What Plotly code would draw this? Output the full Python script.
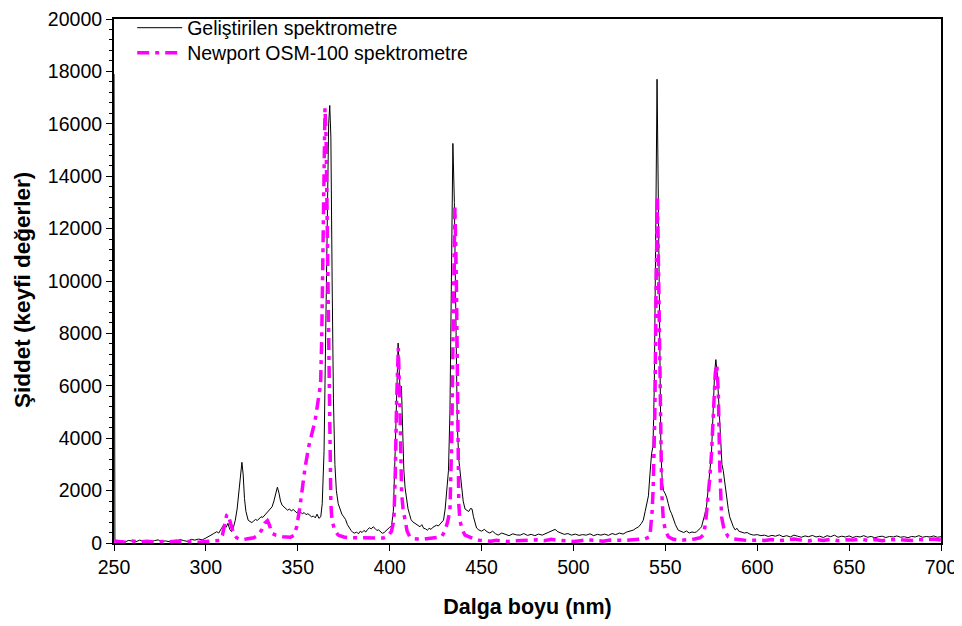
import plotly.graph_objects as go

# Developed spectrometer (black, thin line)
dev_wl = [250, 250.5, 252, 254, 256, 258, 260, 262, 264, 266, 268, 270, 272, 274, 276, 278, 280, 282, 284, 286, 288, 290,
          292, 294, 296, 298, 300, 302, 304, 305.9, 307, 308.5, 310, 311, 312, 313, 314, 315, 316, 317, 318, 319, 319.6,
          320.3, 321, 321.8, 323, 324, 325, 326, 327, 328, 329, 330, 331, 332, 333, 334, 335, 336, 337, 338, 338.9, 339.8,
          340.6, 341.5, 342.5, 343.5, 344.5, 345.5, 346.5, 347.5, 348.5, 349.5, 350.5, 351.5, 352.5, 353.5, 354.5, 355.5,
          356.5, 357.5, 358.5, 359.5, 360.5, 361.5, 362.5, 363.3, 364.3, 365.2, 366, 366.8, 367.4, 368, 368.7, 369.4, 370.2,
          371, 372, 373, 374, 375, 376, 377, 378, 379, 380, 381, 382, 383, 384, 385, 386, 387, 388, 389, 390, 391, 392,
          393, 394, 395, 396, 397, 398, 399, 400, 401, 402, 403, 403.8, 404.6, 405.2, 405.7, 406.4, 407, 407.7, 408.4,
          409.2, 410, 410.8, 411.6, 412.5, 413.5, 414.5, 415.5, 416.5, 417.5, 418.5, 419.5, 420.5, 421.5, 422.5, 423.5,
          424.5, 425.5, 426.5, 427.5, 428.5, 429.3, 430.2, 431, 432, 432.8, 433.6, 434.4, 435.2, 436, 436.8, 437.6, 438.3,
          439, 440, 441, 442, 443, 444, 444.8, 445.6, 446.5, 447.3, 448.5, 450, 451.5, 453, 454.5, 456, 457.5, 459, 461,
          463, 465, 467, 469, 471, 473, 475, 477, 479, 481, 483, 485, 487, 488.5, 490, 491.5, 493, 495, 497, 499, 501,
          503, 505, 507, 509, 511, 513, 515, 517, 519, 521, 523, 525, 527, 529, 531, 532.5, 534, 535.5, 537, 538, 539,
          540, 540.8, 541.6, 542.5, 543.3, 544, 544.8, 545.5, 546.2, 546.9, 547.6, 548.3, 549, 549.8, 550.7, 551.6,
          552.5, 553.4, 554.5, 555.5, 557, 558.5, 560, 561.5, 563, 564.5, 566, 567, 568, 569, 569.7, 570.5, 571.5,
          572.4, 573.3, 574.2, 575.1, 576, 576.8, 577.5, 578.3, 579.2, 580, 580.8, 581.5, 582.3, 583.2, 584.2, 585, 586,
          587, 588, 589, 590, 591.5, 593, 594.5, 596, 598,
          600, 602, 604, 606, 608, 610, 612, 614, 616, 618, 620, 622, 624, 626, 628, 630, 632, 634, 636, 638, 640, 642,
          644, 646, 648, 650, 652, 654, 656, 658, 660, 662, 664, 666, 668, 670, 672, 674, 676, 678, 680, 682, 684, 686,
          688, 690, 692, 694, 696, 698, 700]
dev_int = [17900, 120, 60, 90, 40, 100, 70, 50, 110, 60, 80, 40, 90, 120, 60, 80, 50, 100, 70, 130, 90, 60,
           140, 110, 150, 120, 190, 260, 350, 430, 380, 560, 720, 600, 750, 520, 430, 600, 870, 1300, 2100, 2800, 3080,
           2600, 1700, 1200, 870, 820, 780, 840, 900, 860, 950, 1000, 980, 1060, 1120, 1200, 1300, 1380, 1600, 1950, 2130, 1900,
           1600, 1440, 1380, 1330, 1250, 1300, 1220, 1280, 1200, 1150, 1230, 1190, 1120, 1160, 1080, 1120,
           1050, 1000, 1030, 960, 1100, 940, 1000, 1500, 3500, 8000, 13000, 16000, 16700, 15500, 10000, 5500, 3000,
           2000, 1500, 1250, 1100, 1000, 900, 700, 560, 480, 400, 380, 420, 350, 450, 400, 480, 420, 520, 580, 540, 620, 560,
           480, 500, 420, 370, 400, 480, 540, 600, 650, 1200, 3500, 6200, 7630, 6600, 5730, 5980, 4500, 2800, 2100,
           1600, 1300, 1100, 900, 810, 760, 700, 680, 620, 700, 560, 540, 490, 560, 520, 600,
           640, 680, 650, 720, 800, 870, 1300, 2000, 2770, 5000, 11000, 15250, 13000, 8000, 4500, 3200, 2770,
           2200, 1600, 1300, 1250, 1200, 1320, 1300, 1000, 750, 570, 500, 450, 520, 430, 380, 450, 360, 300, 380,
           330, 280, 350, 310, 300, 360, 290, 330, 280, 340, 300, 360, 410, 470, 520, 430, 380, 330, 360, 300, 340,
           290, 320, 300, 350, 280, 330, 300, 340, 290, 360, 320, 380, 340, 420, 450, 490, 560, 620, 750, 870, 1200,
           1600, 1800, 2600, 3400, 3700, 6000, 12000, 17700, 13000, 7000, 3500, 2400, 2000, 1900, 1750, 1500,
           1250, 1120, 900, 700, 490, 450, 400, 460, 380, 420, 400, 430, 480, 560, 620, 800, 1100,
           1380, 2000, 2800, 3400, 5000, 6500, 7000, 6400, 5200, 3800, 3000, 2770, 2300, 1800, 1320, 1000, 800,
           620, 500, 560, 450, 420, 380, 400, 340, 300,
           320, 280, 300, 250, 290, 260, 310, 240, 280, 230, 300, 260, 220, 270, 240, 290, 230, 260, 210, 280, 240, 300,
           220, 260, 230, 270, 210, 250, 230, 280, 220, 250, 200, 240, 260, 210, 250, 230, 270, 220, 240, 200, 250, 230,
           280, 220, 250, 230, 270, 220, 240]

# Newport OSM-100 spectrometer (magenta, dash-dot)
osm_wl = [250, 252, 256, 260, 264, 268, 272, 276, 280, 284, 288, 292, 296, 300, 304, 307.7, 309, 310.3, 311.3, 312, 313,
          314, 315, 316.7, 318, 320, 322, 324, 326, 328, 330.3, 332, 333.5, 334.5, 336, 338, 340, 342, 344, 346, 348,
          349.4, 351, 352.5, 354, 356, 358, 359.4, 361, 362.4, 363, 363.8, 364.4, 364.8, 365.4, 366, 366.6, 367.2, 368,
          368.6, 370, 372, 375, 378, 382, 386, 390, 394, 396.5, 399, 401, 402.3, 403, 403.8, 404.7, 405.5, 406.5, 407.3,
          408.3, 409.5, 411, 413, 415, 417, 419, 421, 423, 425, 427, 428.3, 430, 431.5, 432.8, 433.8, 434.7, 435.5,
          436.3, 437, 437.6, 438.2, 439.5, 441, 442.8, 446, 449, 452, 455, 458, 461, 464, 468, 472, 476, 480, 484, 488,
          492, 496, 500, 504, 508, 512, 516, 520, 524, 528, 532, 536, 539, 541.6, 542.8, 543.4, 544.3, 545, 545.7,
          546.4, 547.2, 548, 548.9, 550, 551.6, 554, 558, 562, 566, 569, 570.6, 571.8, 573, 574.2, 575.1, 576.2, 577.2,
          578, 578.8, 579.6, 580.6, 582, 584.2, 587, 590, 594,
          600, 604, 608, 612, 616, 620, 624, 628, 632, 636, 640, 644, 648, 652, 656, 660, 664, 668, 672, 676, 680, 684,
          688, 692, 696, 700]
osm_int = [80, 60, 30, 80, 40, 70, 30, 60, 40, 80, 50, 60, 30, 60, 80, 100, 300, 700, 1060, 1100, 800,
           620, 380, 200, 150, 130, 150, 160, 200, 280, 490, 750, 850, 700, 370, 300, 260, 240, 230, 220, 300,
           620, 1300, 2200, 2890, 3700, 4300, 4660, 5400, 6060, 7700, 11000, 15000, 16600, 15500, 12000, 7000, 3500, 1500,
           870, 500, 300, 230, 200, 200, 180, 200, 190, 190, 260, 450, 870, 2500, 5500, 7440, 5500, 1890, 1300,
           870, 450, 230, 170, 150, 140, 150, 170, 180, 200, 220, 240, 450, 800, 1250, 4000, 9000, 12800,
           10000, 4000, 1500, 870, 500, 300, 240, 150, 100, 80, 70, 100, 90, 60, 80, 100, 130, 120, 90, 140,
           100, 80, 60, 90, 120, 100, 70, 110, 90, 100, 120, 130, 160, 240, 1200, 2130, 5000, 10000, 13200,
           10000, 5000, 2000, 870, 500, 240, 150, 100, 120, 150, 200, 300, 700, 1500, 2500, 3400, 5200, 6500,
           6820, 5800, 3000, 1000, 500, 240, 160, 120, 100,
           110, 100, 130, 90, 120, 150, 110, 80, 130, 100, 140, 90, 120, 110, 150, 100, 130, 90, 120, 140, 110, 100,
           130, 120, 150, 110]

x_ticks = [250, 300, 350, 400, 450, 500, 550, 600, 650, 700]
y_ticks = [0, 2000, 4000, 6000, 8000, 10000, 12000, 14000, 16000, 18000, 20000]

x_title = "Dalga boyu (nm)"
y_title = "Şiddet (keyfi değerler)"

FONT = "Liberation Sans, Arial, sans-serif"

fig = go.Figure()
fig.add_trace(go.Scatter(x=dev_wl, y=dev_int, mode="lines", name="Geliştirilen spektrometre",
                         line=dict(color="black", width=1), legend="legend"))
fig.add_trace(go.Scatter(x=osm_wl, y=osm_int, mode="lines", name="Newport OSM-100 spektrometre",
                         line=dict(color="#FF00FF", width=3.5, dash="12px,6px,4px,6px"), legend="legend2"))

leg_common = dict(xanchor="left", yanchor="top", bgcolor="rgba(0,0,0,0)",
                  font=dict(family=FONT, size=19.5, color="black"), itemwidth=45)

# The page body adds an 8px offset, so the figure is 8px smaller on each axis
fig.update_layout(
    width=954, height=618,
    margin=dict(l=106, r=21, t=11, b=83, autoexpand=False),
    paper_bgcolor="white", plot_bgcolor="white",
    font=dict(family=FONT, size=20, color="black"),
    showlegend=True,
    legend=dict(x=0.022, y=1.020, **leg_common),
    legend2=dict(x=0.022, y=0.9723, **leg_common),
    xaxis=dict(range=[250, 700], tickvals=x_ticks, ticktext=[str(v) for v in x_ticks],
               ticks="outside", ticklen=6, tickwidth=1, tickcolor="black", automargin=False,
               ticklabeloverflow="allow",
               showline=True, linewidth=2, linecolor="black", mirror=True,
               showgrid=False, zeroline=False,
               tickfont=dict(family=FONT, size=19.5),
               title=dict(text="<b>" + x_title + "</b>", font=dict(family=FONT, size=21.5), standoff=22)),
    yaxis=dict(range=[0, 20000], tickvals=y_ticks, ticktext=[str(v) for v in y_ticks],
               ticks="outside", ticklen=6, tickwidth=1, tickcolor="black", automargin=False,
               ticklabeloverflow="allow",
               minor=dict(dtick=400, ticks="outside", ticklen=3, tickcolor="black", tickwidth=1, showgrid=False),
               showline=True, linewidth=2, linecolor="black", mirror=True,
               showgrid=False, zeroline=False,
               tickfont=dict(family=FONT, size=19.5)),
    annotations=[dict(text="<b>" + y_title + "</b>", xref="paper", yref="paper",
                      x=-92 / 827, y=0.4828, xanchor="center", yanchor="middle", textangle=-90,
                      showarrow=False, font=dict(family=FONT, size=22.5, color="black"))],
)

fig.write_html("out.html")
